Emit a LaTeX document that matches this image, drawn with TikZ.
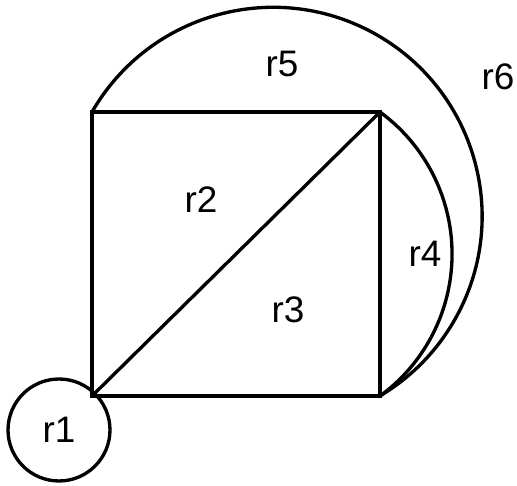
\documentclass[tikz,border=0pt]{standalone}
\usepackage{fontspec}
\setmainfont{Liberation Sans}
\usetikzlibrary{positioning}
\tikzset{
  edgeline/.style={line width=1.9pt, line join=miter},
  regionlabel/.style={inner sep=0pt, font=\fontsize{21}{25}\selectfont},
  ringnode/.style={draw, circle, line width=1.9pt, minimum size=2.04cm, inner sep=0pt, font=\fontsize{21}{25}\selectfont}
}
\begin{document}
\begin{tikzpicture}[x=0.02cm, y=0.02cm]
  \useasboundingbox (0,0) rectangle (517,486);
  % square corners
  \coordinate (bl) at (92,90);
  \coordinate (br) at (380,90);
  \coordinate (tr) at (380,374);
  \coordinate (tl) at (92,374);
  \draw[edgeline] (bl) -- (br) -- (tr) -- (tl) -- cycle;
  \draw[edgeline] (bl) -- (tr);
  % arcs
  \draw[edgeline] (tr) arc[start angle=53.8, end angle=-53.8, radius=176];
  \draw[edgeline] (tl) arc[start angle=150.06, end angle=-59.25, radius=209];
  % regions
  \node[ringnode] (r1) at (59,56) {r1};
  \node[regionlabel] (r2) at (201,286) {r2};
  \node[regionlabel] (r3) at (288,176) {r3};
  \node[regionlabel] (r4) at (425,232) {r4};
  \node[regionlabel] (r5) at (282,422) {r5};
  \node[regionlabel] (r6) at (498,409) {r6};
\end{tikzpicture}
\end{document}
